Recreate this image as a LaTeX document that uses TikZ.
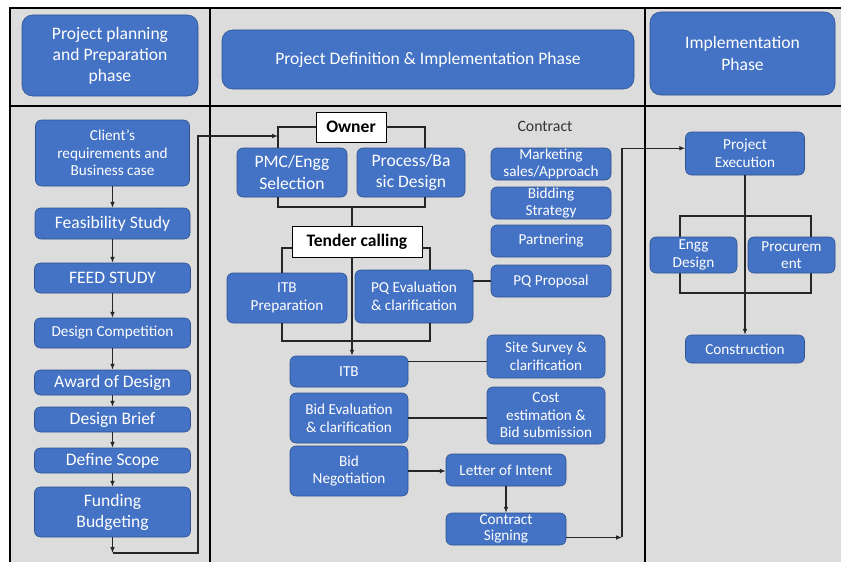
\documentclass[tikz,border=0pt]{standalone}
\usepackage{fontspec}
\setmainfont{Carlito}
\usetikzlibrary{arrows.meta}
\definecolor{bgGray}{HTML}{DCDCDC}
\definecolor{boxBlue}{HTML}{4472C4}
\definecolor{boxEdge}{HTML}{2F528F}
\definecolor{labelGray}{HTML}{333333}

\begin{document}
\begin{tikzpicture}[x=0.03cm, y=-0.03cm,
    box/.style 2 args={rectangle, rounded corners=5pt, fill=boxBlue, draw=boxEdge,
        line width=0.5pt, text=white, align=center, inner sep=1pt,
        minimum width=#1*0.03cm, minimum height=#2*0.03cm,
        font=\fontsize{13}{15}\selectfont},
    hdr/.style 2 args={box={#1}{#2}, rounded corners=9pt, font=\fontsize{15}{18}\selectfont},
    big/.style={font=\fontsize{15}{18}\selectfont},
    tight/.style={inner sep=0pt, font=\fontsize{13}{14}\selectfont},
    tag/.style 2 args={draw=black, fill=white, line width=0.8pt, inner sep=1pt,
        minimum width=#1*0.03cm, minimum height=#2*0.03cm,
        font=\bfseries\fontsize{15}{17}\selectfont},
    link/.style={line width=0.9pt, black!85},
    arr/.style={link, -{Latex[length=5pt, width=4pt]}},
    cellline/.style={line width=1.6pt}]

    % table
    \useasboundingbox (0,0) rectangle (841,562);
    \clip (0,0) rectangle (841,562);
    \fill[bgGray] (10,8) rectangle (850,570);
    \draw[cellline] (10,570) -- (10,8) -- (850,8);
    \draw[cellline] (10,106) -- (850,106);
    \draw[cellline] (210,8) -- (210,570);
    \draw[cellline] (645,8) -- (645,570);

    % phase headers
    \node[hdr={176}{81}] (hplan) at (110,55.5) {Project planning\\and Preparation\\phase};
    \node[hdr={412}{59}] (hdef) at (428,59.5) {Project Definition \& Implementation Phase};
    \node[hdr={185}{83}] (himpl) at (742.5,53.5) {Implementation\\Phase};

    % planning and preparation
    \node[box={154}{66}] (client) at (112.5,153) {Client’s\\requirements and\\Business case};
    \node[box={155}{31}, big] (feas) at (112.5,223.5) {Feasibility Study};
    \node[box={156}{30}, big] (feed) at (112.5,278) {FEED STUDY};
    \node[box={156}{30}] (dcomp) at (112.5,333) {Design Competition};
    \node[box={156}{25}, big] (award) at (112.5,382.5) {Award of Design};
    \node[box={156}{25}, big] (brief) at (112.5,419.5) {Design Brief};
    \node[box={156}{25}, big] (scope) at (112.5,460.5) {Define Scope};
    \node[box={156}{50}, big] (fund) at (112.5,512) {Funding\\Budgeting};

    \foreach \a/\b in {client/feas, feas/feed, feed/dcomp, dcomp/award,
                       award/brief, brief/scope, scope/fund}
        \draw[arr] (\a) -- (\b);

    \coordinate (ret) at (112.5,553);
    \coordinate (ownin) at (278,136);
    \draw[arr] (fund) -- (ret);
    \draw[arr] (ret) -- (198,553) -- (198,136) -- (ownin);

    % definition: owner side
    \node[tag={70}{30}] (owner) at (351,127) {Owner};
    \node[box={110}{49}, big] (pmc) at (292,172.5) {PMC/Engg\\Selection};
    \node[box={108}{49}, big] (proc) at (411,172.5) {Process/Ba\\sic Design};

    \coordinate (bl) at (278,128);
    \coordinate (br) at (425,128);
    \coordinate (jn) at (352,207);
    \draw[link] (owner.west) -- (owner.west -| bl) -- (pmc.north -| bl);
    \draw[link] (owner.east) -- (owner.east -| br) -- (proc.north -| br);
    \draw[link] (pmc.south -| bl) |- (jn) -| (proc.south -| br);

    \node[tag={130}{31}] (tender) at (357,241.5) {Tender calling};
    \draw[link] (jn) -- (jn |- tender.north);

    \node[box={120}{50}] (itbp) at (287,298) {ITB\\Preparation};
    \node[box={118}{53}] (pqe) at (414,296.5) {PQ Evaluation\\\& clarification};

    \coordinate (tl) at (282,248);
    \coordinate (tr) at (430,248);
    \coordinate (jn2) at (352,341);
    \draw[link] (tender.west |- tl) -- (tl) -- (tl |- itbp.north);
    \draw[link] (tender.east |- tr) -- (tr) -- (tr |- pqe.north);
    \draw[link] (tl |- itbp.south) |- (jn2) -| (tr |- pqe.south);

    \node[box={118}{31}] (itb) at (349,371.5) {ITB};
    \node[box={118}{50}] (bideval) at (349,418) {Bid Evaluation\\\& clarification};
    \node[box={118}{50}] (bidneg) at (349,471) {Bid\\Negotiation};
    \draw[arr] (jn |- tender.south) -- (jn |- itb.north);

    % definition: contract side
    \node[font=\fontsize{13.5}{15}\selectfont, text=labelGray] (contract) at (545,126) {Contract};
    \node[box={120}{32}, tight] (mkt) at (551,164) {Marketing\\sales/Approach};
    \node[box={120}{32}, tight] (bidst) at (551,203) {Bidding\\Strategy};
    \node[box={120}{32}] (partn) at (551,241) {Partnering};
    \node[box={120}{32}] (pqprop) at (551,281) {PQ Proposal};
    \node[box={118}{43}] (site) at (546,356.5) {Site Survey \&\\clarification};
    \node[box={118}{57}] (cost) at (546,415.5) {Cost\\estimation \&\\Bid submission};
    \node[box={120}{32}] (loi) at (506,470) {Letter of Intent};
    \node[box={120}{32}, tight] (csign) at (506,529) {Contract\\Signing};

    \draw[link] (pqe.east |- pqprop) -- (pqprop.west);
    \draw[link] (itb.10) -- (itb.10 -| site.west);
    \draw[link] (bideval.east) -- (bideval.east -| cost.west);
    \draw[arr] (bidneg.east) -- (bidneg.east -| loi.west);
    \draw[arr] (loi) -- (csign);

    % implementation
    \draw[link] (680,216) rectangle (811,293);
    \node[box={119}{43}] (pexec) at (745,153.5) {Project\\Execution};
    \node[box={87}{36}] (engg) at (693.5,255) {Engg\\Design};
    \node[box={87}{36}] (procur) at (791.5,255) {Procurem\\ent};
    \node[box={119}{28}] (constr) at (745,349) {Construction};

    \coordinate (turn) at (622,537);
    \draw[arr] (csign.-8) -- (csign.-8 -| turn);
    \draw[arr] (csign.-8 -| turn) -- (turn |- pexec.175) -- (pexec.175);
    \draw[arr] (pexec) -- (constr);
\end{tikzpicture}
\end{document}
